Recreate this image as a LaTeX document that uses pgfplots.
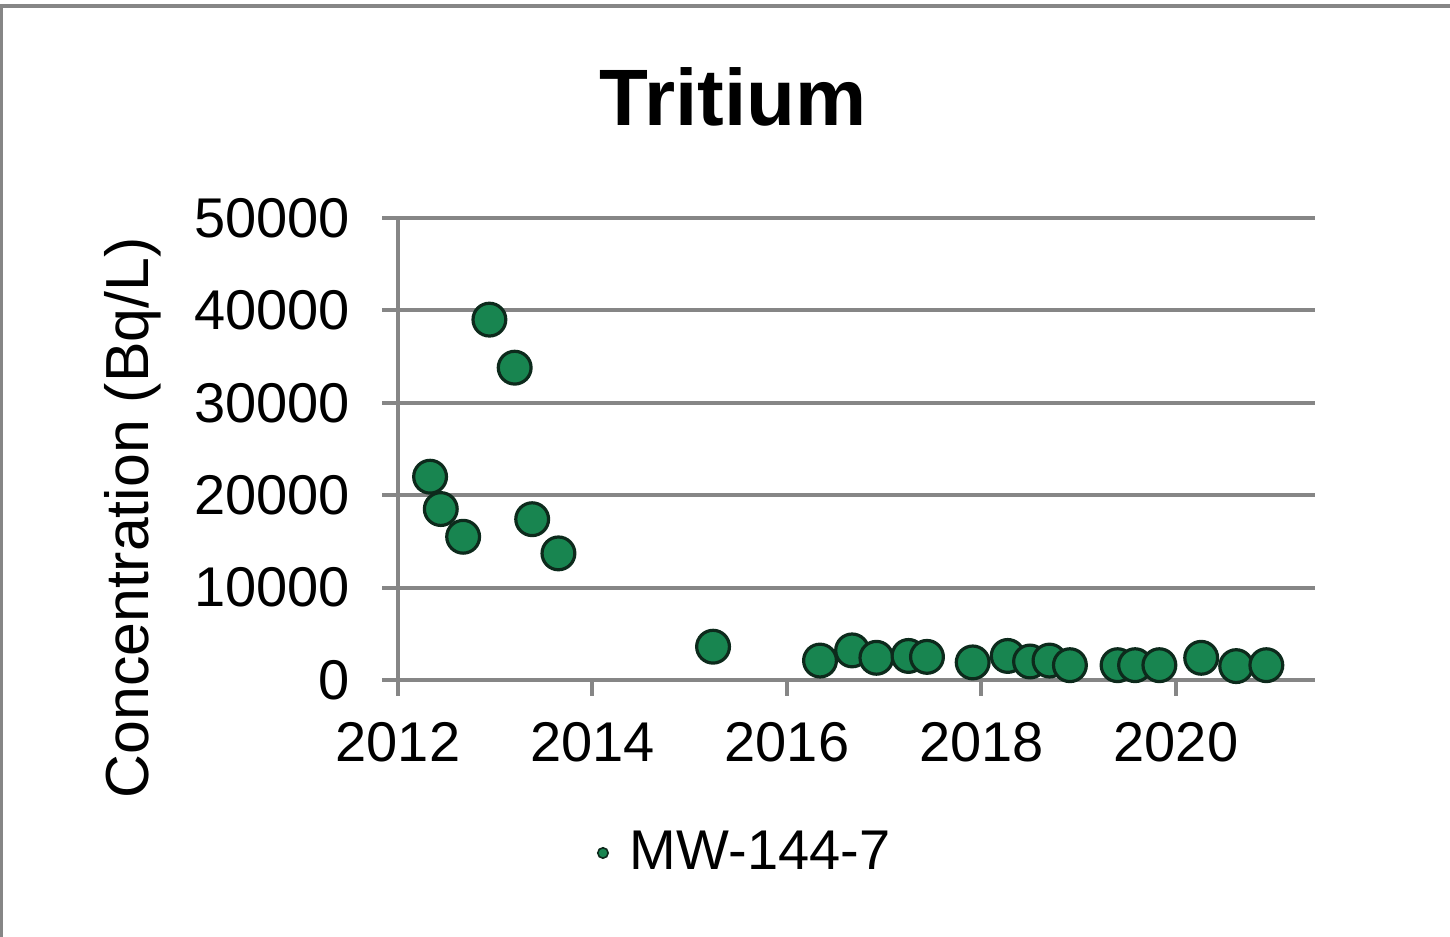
\documentclass[border=0pt]{standalone}
\usepackage{pgfplots}
\pgfplotsset{compat=1.18}
\usepackage{fontspec}
\setmainfont{Liberation Sans}
\definecolor{gridgray}{HTML}{868686}
\definecolor{mkgreen}{HTML}{188550}
\definecolor{mkedge}{HTML}{0D2A1C}
\pgfplotstableread{
x y
2012.33 22000
2012.44 18500
2012.67 15500
2012.94 39000
2013.20 33800
2013.38 17400
2013.65 13700
2015.24 3600
2016.34 2100
2016.67 3200
2016.92 2400
2017.25 2600
2017.44 2500
2017.91 1900
2018.27 2600
2018.50 2000
2018.70 2100
2018.91 1600
2019.40 1600
2019.58 1600
2019.83 1600
2020.26 2400
2020.62 1500
2020.93 1600
}\datatable
\begin{document}
\begin{tikzpicture}[x=0.25pt,y=0.25pt]
\path[use as bounding box] (0,0) rectangle (1450,937);
\draw[gridgray, line width=0.9pt] (1.5,0) -- (1.5,931) -- (1450,931);
\node[font=\bfseries\fontsize{20}{24}\selectfont] at (733,840) {Tritium};
\node[rotate=90, font=\fontsize{15.2}{18}\selectfont] at (133,419) {Concentration (Bq/L)};
\begin{axis}[
  at={(398*0.25pt,257*0.25pt)}, anchor=south west,
  scale only axis, width=229.25pt, height=115.5pt,
  xmin=2012, xmax=2021.43, ymin=0, ymax=50000,
  axis x line*=bottom, axis y line*=left,
  axis line style={gridgray, line width=1pt, -},
  xtick={2012,2014,2016,2018,2020},
  ytick={0,10000,20000,30000,40000,50000},
  ymajorgrids, grid style={gridgray, line width=1pt},
  tick align=outside, major tick length=4pt,
  tick style={gridgray, line width=1pt},
  scaled y ticks=false, scaled x ticks=false,
  /pgf/number format/1000 sep={},
  /pgf/number format/assume math mode=true,
  ticklabel style={font=\fontsize{14}{17}\selectfont},
  yticklabel style={xshift=-4.5pt},
  xticklabel style={yshift=-3pt},
  legend style={at={(0.3884,-0.3745)}, anchor=center, draw=none, fill=none,
    font=\fontsize{14}{17}\selectfont, inner sep=0pt},
  legend image code/.code={\path[draw=none, fill=none] (-1.5pt,0) (1.5pt,0);
    \fill[overlay, mkgreen, draw=mkedge, line width=0.4pt] (-3.25pt,0) circle (1.3pt);},
  clip=false,
]
\addplot[only marks, mark=*, mark size=4.1pt,
  mark options={fill=mkgreen, draw=mkedge, line width=0.8pt}] table[x=x,y=y] {\datatable};
\addlegendentry{MW-144-7}
\end{axis}
\end{tikzpicture}
\end{document}
